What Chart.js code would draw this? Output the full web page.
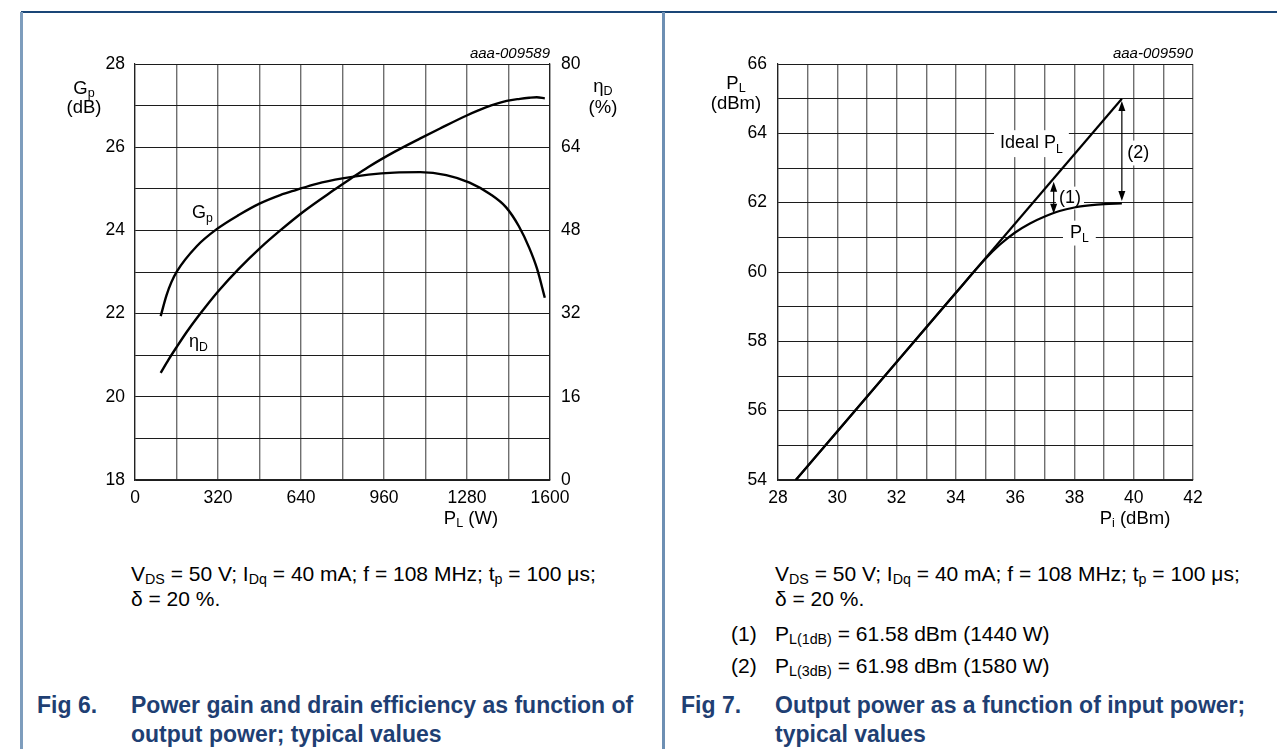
<!DOCTYPE html>
<html>
<head>
<meta charset="utf-8">
<script src="https://cdn.jsdelivr.net/npm/chart.js@4.4.1/dist/chart.umd.min.js"></script>
<style>
html,body{margin:0;padding:0;background:#fff;}
body{width:1277px;height:749px;position:relative;overflow:hidden;font-family:"Liberation Sans",Arial,sans-serif;color:#000;}
.abs{position:absolute;white-space:nowrap;}
.sub{font-size:68%;position:relative;top:0.24em;}
.line{position:absolute;z-index:5;}
canvas{position:absolute;top:0;}
</style>
</head>
<body>
<div class="line" style="left:21px;top:11px;width:1256px;height:2px;background:#1a4677;"></div>
<div class="line" style="left:20px;top:12px;width:3px;height:737px;background:#7e9dbd;"></div>
<div class="line" style="left:662px;top:12px;width:3px;height:737px;background:#6d8fb3;"></div>
<canvas id="c1" width="663" height="545" style="left:0px;"></canvas>
<canvas id="c2" width="614" height="545" style="left:663px;"></canvas>
<div id="texts"></div>
<script>
// ---------- Fig 6 data ----------
const gpPower  = [99, 122, 140, 161, 238, 315, 400, 482, 560, 620, 700, 800, 900, 1000, 1100, 1200, 1290, 1370, 1430, 1480, 1520, 1550, 1580];
const gpValues = [21.94, 22.45, 22.75, 23.01, 23.62, 24.03, 24.37, 24.65, 24.85, 24.97, 25.12, 25.25, 25.34, 25.39, 25.40, 25.33, 25.15, 24.87, 24.56, 24.10, 23.58, 23.08, 22.38];
const etaPower  = [99, 130, 161, 200, 238, 280, 321, 400, 482, 560, 649, 765, 830, 900, 1000, 1100, 1176, 1279, 1350, 1433, 1484, 1520, 1549, 1580];
const etaValues = [20.6, 23.2, 25.6, 28.5, 31.1, 33.8, 36.3, 40.6, 44.6, 48.0, 51.6, 55.7, 57.9, 60.2, 63.1, 65.7, 67.6, 70.1, 71.6, 72.9, 73.3, 73.5, 73.6, 73.4];
// ---------- Fig 7 data ----------
const piInput  = [28.6, 30, 32, 34, 35, 35.5, 36, 36.5, 37, 37.5, 38, 38.5, 39, 39.6];
const plOutput = [54.0, 55.4, 57.4, 59.4, 60.38, 60.8, 61.14, 61.40, 61.60, 61.76, 61.86, 61.92, 61.96, 61.98];
const idealPi  = [28.6, 39.6];
const idealPl  = [54.0, 65.0];

const FAM = "'Liberation Sans', Arial, sans-serif";
const tickFont = {family: FAM, size: 17.5};

function pts(xs, ys){ return xs.map((x,i)=>({x:x, y:ys[i]})); }

function drawParts(ctx, parts, x, y, size, bg){
  let w = 0;
  const segs = parts.map(([t, sub]) => {
    const s = sub ? size*0.68 : size;
    ctx.font = s + 'px ' + FAM;
    const m = ctx.measureText(t).width;
    const seg = {t:t, s:s, dx:w, dy: sub ? size*0.24 : 0};
    w += m;
    return seg;
  });
  if (bg){
    ctx.fillStyle = '#fff';
    ctx.fillRect(x - bg[0], y - size*0.78 - bg[1], w + 2*bg[0], size*1.05 + 2*bg[1]);
  }
  ctx.fillStyle = '#000'; ctx.textBaseline = 'alphabetic'; ctx.textAlign = 'left';
  segs.forEach(sg => { ctx.font = sg.s + 'px ' + FAM; ctx.fillText(sg.t, x + sg.dx, y + sg.dy); });
}

function annotationPlugin(labels, arrows){
  return {
    id: 'annot',
    beforeDatasetsDraw(chart){
      const ctx = chart.ctx; ctx.save();
      labels.forEach(l => {
        const px = chart.scales.x.getPixelForValue(l.x);
        const py = chart.scales[l.axis || 'y'].getPixelForValue(l.y);
        drawParts(ctx, l.parts, px, py, l.size || 18, l.bg);
      });
      ctx.restore();
    },
    afterDatasetsDraw(chart){
      const ctx = chart.ctx; ctx.save();
      ctx.strokeStyle = '#000'; ctx.fillStyle = '#000'; ctx.lineWidth = 1.2;
      arrows.forEach(a => {
        const px = chart.scales.x.getPixelForValue(a.x);
        const p1 = chart.scales.y.getPixelForValue(a.y1);
        const p2 = chart.scales.y.getPixelForValue(a.y2);
        ctx.beginPath(); ctx.moveTo(px, p1 + 6); ctx.lineTo(px, p2 - 6); ctx.stroke();
        const head = (tip, dir) => {
          ctx.beginPath(); ctx.moveTo(px, tip);
          ctx.lineTo(px - 3.5, tip + dir*10); ctx.lineTo(px + 3.5, tip + dir*10);
          ctx.closePath(); ctx.fill();
        };
        head(p1, 1); head(p2, -1);
      });
      ctx.restore();
    }
  };
}

const gridV = {color:'#6f6f6f', lineWidth:1.4, drawTicks:false};
const gridH = {color:'#1c1c1c', lineWidth:1, drawTicks:false};
const borderOpt = {display:true, color:'#222', width:1.2};
const lineDs = (data, axis) => ({data:data, yAxisID:axis, borderColor:'#000', borderWidth:2.4,
  pointRadius:0, cubicInterpolationMode:'monotone', fill:false});

// ---------- Chart 1 ----------
new Chart(document.getElementById('c1'), {
  type:'line',
  data:{datasets:[ lineDs(pts(gpPower, gpValues), 'y'), lineDs(pts(etaPower, etaValues), 'y2') ]},
  options:{
    responsive:false, animation:false, events:[],
    layout:{padding:{top:64, left:0, right:0, bottom:0}},
    plugins:{legend:{display:false}, tooltip:{enabled:false}},
    scales:{
      x:{type:'linear', min:0, max:1600,
         ticks:{stepSize:160, autoSkip:false, maxRotation:0, padding:8, color:'#000', font:tickFont,
                callback:v => (Math.round(v) % 320 === 0 ? String(Math.round(v)) : '')},
         grid:gridV, border:borderOpt, afterFit:s => { s.height = 65; }},
      y:{type:'linear', position:'left', min:18, max:28,
         ticks:{stepSize:1, autoSkip:false, padding:10, color:'#000', font:tickFont,
                callback:v => (Math.round(v) % 2 === 0 ? String(Math.round(v)) : '')},
         grid:gridH, border:borderOpt, afterFit:s => { s.width = 135; }},
      y2:{type:'linear', position:'right', min:0, max:80,
         ticks:{stepSize:16, autoSkip:false, padding:11, color:'#000', font:tickFont},
         grid:{display:false, drawTicks:false}, border:borderOpt, afterFit:s => { s.width = 113; }}
    }
  },
  plugins:[annotationPlugin([
    {x:220, y:24.30, parts:[['G',0],['p',1]]},
    {x:208, y:21.20, parts:[['η',0],['D',1]]}
  ], [])]
});

// ---------- Chart 2 ----------
new Chart(document.getElementById('c2'), {
  type:'line',
  data:{datasets:[
    Object.assign(lineDs(pts(idealPi, idealPl), 'y'), {cubicInterpolationMode:'default', tension:0, borderWidth:2.2}),
    Object.assign(lineDs(pts(piInput, plOutput), 'y'), {borderWidth:2.2})
  ]},
  options:{
    responsive:false, animation:false, events:[],
    layout:{padding:{top:64, left:0, right:84, bottom:0}},
    plugins:{legend:{display:false}, tooltip:{enabled:false}},
    scales:{
      x:{type:'linear', min:28, max:42,
         ticks:{stepSize:1, autoSkip:false, maxRotation:0, padding:8, color:'#000', font:tickFont,
                callback:v => (Math.round(v) % 2 === 0 ? String(Math.round(v)) : '')},
         grid:gridV, border:borderOpt, afterFit:s => { s.height = 65; }},
      y:{type:'linear', position:'left', min:54, max:66,
         ticks:{stepSize:1, autoSkip:false, padding:11, color:'#000', font:tickFont,
                callback:v => (Math.round(v) % 2 === 0 ? String(Math.round(v)) : '')},
         grid:gridH, border:borderOpt, afterFit:s => { s.width = 115; }}
    }
  },
  plugins:[annotationPlugin([
    {x:35.49, y:63.57, parts:[['Ideal P',0],['L',1]], bg:[6,4]},
    {x:37.85, y:60.99, parts:[['P',0],['L',1]], bg:[7,3]},
    {x:37.48, y:62.00, parts:[['(1)',0]], bg:[3,2]},
    {x:39.78, y:63.30, parts:[['(2)',0]], bg:[4,3]}
  ], [
    {x:37.3, y1:62.6, y2:61.68},
    {x:39.6, y1:64.93, y2:62.05}
  ])]
});

// ---------- HTML texts ----------
const texts = document.getElementById('texts');
function put(html, x, baseline, size, opt){
  opt = opt || {};
  const d = document.createElement('div');
  d.className = 'abs';
  d.innerHTML = html;
  d.style.fontSize = size + 'px';
  d.style.lineHeight = size + 'px';
  d.style.top = (baseline - 0.8465*size) + 'px';
  d.style.left = x + 'px';
  if (opt.align === 'center') d.style.transform = 'translateX(-50%)';
  if (opt.align === 'right') d.style.transform = 'translateX(-100%)';
  if (opt.bold) d.style.fontWeight = 'bold';
  if (opt.italic) d.style.fontStyle = 'italic';
  if (opt.color) d.style.color = opt.color;
  texts.appendChild(d);
}
// axis titles
put('G<span class="sub">p</span>', 84, 95, 18.5, {align:'center'});
put('(dB)', 84, 114, 18.5, {align:'center'});
put('η<span class="sub">D</span>', 603, 93, 18.5, {align:'center'});
put('(%)', 603, 114, 18.5, {align:'center'});
put('P<span class="sub">L</span> (W)', 471, 525, 18.5, {align:'center'});
put('P<span class="sub">L</span>', 736, 90, 18.5, {align:'center'});
put('(dBm)', 736, 110, 18.5, {align:'center'});
put('P<span class="sub">i</span> (dBm)', 1135, 525, 18.5, {align:'center'});
put('aaa-009589', 550, 58, 15, {align:'right', italic:true});
put('aaa-009590', 1193, 58, 15, {align:'right', italic:true});
// conditions
const cond = 'V<span class="sub">DS</span> = 50 V; I<span class="sub">Dq</span> = 40 mA; f = 108 MHz; t<span class="sub">p</span> = 100 μs;';
put(cond, 131, 580.5, 21);
put('δ = 20 %.', 131, 605.5, 21);
put(cond, 775, 580.5, 21);
put('δ = 20 %.', 775, 605.5, 21);
put('(1)', 731, 640.5, 21);
put('P<span class="sub">L(1dB)</span> = 61.58 dBm (1440 W)', 775, 640.5, 21);
put('(2)', 731, 672.5, 21);
put('P<span class="sub">L(3dB)</span> = 61.98 dBm (1580 W)', 775, 672.5, 21);
// figure captions
const CAP = '#1f3f73';
put('Fig 6.', 37, 713, 23, {bold:true, color:CAP});
put('Power gain and drain efficiency as function of', 131, 713, 23, {bold:true, color:CAP});
put('output power; typical values', 131, 742, 23, {bold:true, color:CAP});
put('Fig 7.', 681, 713, 23, {bold:true, color:CAP});
put('Output power as a function of input power;', 775, 713, 23, {bold:true, color:CAP});
put('typical values', 775, 742, 23, {bold:true, color:CAP});
</script>
</body>
</html>
